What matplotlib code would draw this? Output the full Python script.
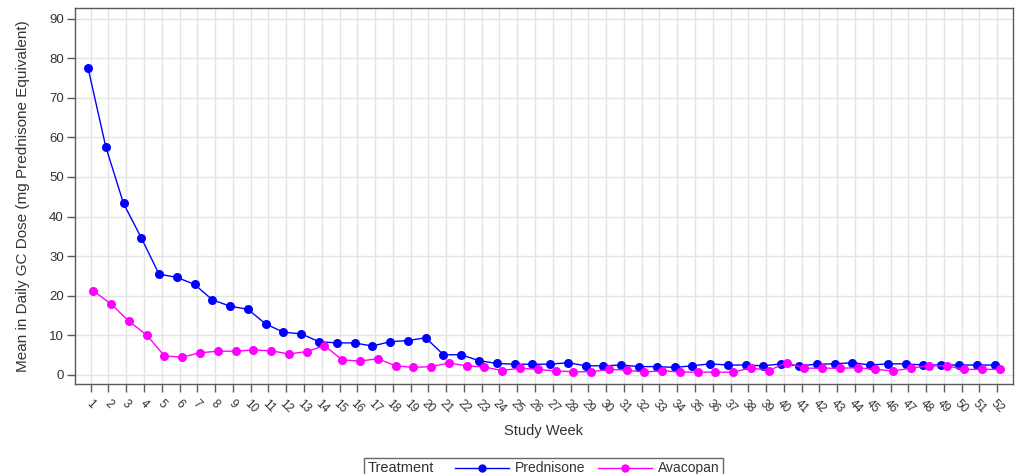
import matplotlib
matplotlib.use("Agg")
import matplotlib.pyplot as plt
import matplotlib.transforms as mtransforms
from matplotlib.lines import Line2D
from matplotlib.offsetbox import HPacker

plt.rcParams['font.family'] = ['Liberation Sans', 'DejaVu Sans']

weeks = list(range(1, 53))
prednisone = [77.7, 57.7, 43.3, 34.6, 25.4, 24.6, 22.8, 18.9, 17.3, 16.5,
              12.8, 10.7, 10.3, 8.3, 8.0, 8.0, 7.2, 8.3, 8.6, 9.3,
              5.0, 5.0, 3.5, 2.8, 2.6, 2.6, 2.6, 3.0, 2.2, 2.2,
              2.4, 2.0, 2.0, 1.8, 2.2, 2.7, 2.4, 2.4, 2.2, 2.7,
              2.2, 2.6, 2.7, 3.0, 2.4, 2.7, 2.7, 2.4, 2.4, 2.4,
              2.4, 2.4]
avacopan = [21.2, 17.8, 13.5, 10.0, 4.7, 4.4, 5.5, 5.9, 5.9, 6.2,
            6.0, 5.2, 5.8, 7.3, 3.7, 3.4, 4.0, 2.2, 1.8, 2.0,
            2.9, 2.2, 1.9, 1.0, 1.6, 1.3, 0.9, 0.7, 0.7, 1.3,
            1.1, 0.6, 1.0, 0.6, 0.6, 0.6, 0.6, 1.7, 1.0, 3.0,
            1.6, 1.6, 1.6, 1.7, 1.3, 0.9, 1.6, 2.2, 2.2, 1.3,
            1.3, 1.3]
series_names = ["Prednisone", "Avacopan"]
series_colors = ["#0000FF", "#FF00FF"]
legend_title = "Treatment"
x_label = "Study Week"
y_label = "Mean in Daily GC Dose (mg Prednisone Equivalent)"

text_color = "#333333"
frame_color = "#5a5a5a"

fig = plt.figure(figsize=(10.15, 4.74), dpi=100)
ax = fig.add_axes([0.0739, 0.1899, 0.9238, 0.7932])

# grouped points sit slightly left/right of each week's tick
shift = 2.7 / 100.0
offsets = [-shift, shift]
for vals, name, col, dx in zip([prednisone, avacopan], series_names, series_colors, offsets):
    tr = ax.transData + mtransforms.ScaledTranslation(dx, 0, fig.dpi_scale_trans)
    ax.plot(weeks, vals, color=col, lw=1.0, marker='o', markersize=6.5,
            markeredgewidth=0, transform=tr, label=name, zorder=3)

ax.set_xlim(0.12, 52.87)
ax.set_ylim(-2.4, 92.78)
ax.set_xticks(weeks)
ax.set_xticklabels([str(w) for w in weeks], rotation=-45, ha='center', va='top',
                   fontsize=8.5, color=text_color)
ax.set_yticks(range(0, 91, 10))
ax.set_yticklabels([str(v) for v in range(0, 91, 10)], fontsize=9.5, color=text_color)
ax.tick_params(axis='both', direction='out', length=6, width=1, color=frame_color, pad=2)
ax.tick_params(axis='x', pad=4)

ax.grid(True, color="#e4e4e4", lw=1.0, zorder=0)
ax.set_axisbelow(True)
for sp in ax.spines.values():
    sp.set_color(frame_color)
    sp.set_linewidth(1.0)

ax.set_xlabel(x_label, fontsize=10.5, color=text_color, labelpad=6)
ax.set_ylabel(y_label, fontsize=11, color=text_color, labelpad=14)

handles = [Line2D([], [], color=c, lw=1.0, marker='o', markersize=6, markeredgewidth=0)
           for c in series_colors]
leg = fig.legend(handles, series_names, loc='upper center', ncol=2,
                 bbox_to_anchor=(0.5355, 1 - 451 / 474), title=legend_title,
                 fontsize=10, title_fontsize=10.5, frameon=True, fancybox=False,
                 edgecolor="#444444", borderpad=0.25, handlelength=3.9,
                 handletextpad=0.43, columnspacing=0.86)
leg.get_frame().set_linewidth(1.0)
for t in leg.get_texts():
    t.set_color(text_color)
leg.get_title().set_color(text_color)
# put the title to the left of the entries on one row
box = HPacker(pad=2.5, sep=15,
              children=[leg._legend_title_box, leg._legend_handle_box], align='center')
box.set_figure(fig)
box.axes = None
leg._legend_box = box
box.set_offset(leg._findoffset)

fig.savefig("out.png", dpi=100)
